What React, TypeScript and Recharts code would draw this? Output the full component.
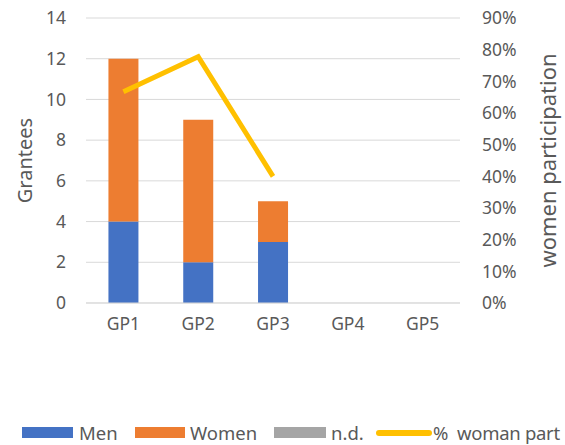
import React from 'react';
import { ComposedChart, Bar, Line, XAxis, YAxis, CartesianGrid } from 'recharts';

const categories = ['GP1', 'GP2', 'GP3', 'GP4', 'GP5'];
const men = [4, 2, 3, 0, 0];
const women = [8, 7, 2, 0, 0];
const nd = [0, 0, 0, 0, 0];
const womanPart: (number | null)[] = [0.667, 0.778, 0.4, null, null];
const leftTicks = [0, 2, 4, 6, 8, 10, 12, 14];
const rightTicks = [0, 0.1, 0.2, 0.3, 0.4, 0.5, 0.6, 0.7, 0.8, 0.9];

const data = categories.map((c, i) => ({
  name: c,
  men: men[i],
  women: women[i],
  nd: nd[i],
  pct: womanPart[i],
}));

const FONT = '"Noto Sans", sans-serif';
const TXT = '#595959';

const legendItems = [
  { label: 'Men', color: '#4472C4', type: 'rect', left: 22, width: 51, textLeft: 79 },
  { label: 'Women', color: '#ED7D31', type: 'rect', left: 135, width: 50, textLeft: 190 },
  { label: 'n.d.', color: '#A5A5A5', type: 'rect', left: 274, width: 52, textLeft: 331 },
  { label: '%  woman part', color: '#FFC000', type: 'line', left: 376, width: 56, textLeft: 433 },
];

export default function App() {
  return (
    <div style={{ position: 'absolute', left: 0, top: 0, width: 565, height: 445, background: '#fff', fontFamily: FONT, overflow: 'hidden' }}>
      <ComposedChart
        width={565}
        height={400}
        data={data}
        margin={{ top: 18, right: 0, left: 0, bottom: 0 }}
        barCategoryGap="30%"
      >
        <CartesianGrid horizontal vertical={false} stroke="#D9D9D9" strokeWidth={1} yAxisId="left" />
        <XAxis
          dataKey="name"
          axisLine={{ stroke: '#D9D9D9' }}
          tickLine={false}
          tickMargin={9}
          height={97}
          tick={{ fill: TXT, fontSize: 17.5, fontFamily: FONT }}
        />
        <YAxis
          yAxisId="left"
          orientation="left"
          width={86}
          domain={[0, 14]}
          ticks={leftTicks}
          axisLine={false}
          tickLine={false}
          tickMargin={14}
          tick={{ fill: TXT, fontSize: 17.5, fontFamily: FONT }}
          label={{ value: 'Grantees', angle: -90, position: 'center', dx: -18, fill: TXT, fontSize: 20, fontFamily: FONT }}
        />
        <YAxis
          yAxisId="right"
          orientation="right"
          width={105}
          domain={[0, 0.9]}
          ticks={rightTicks}
          axisLine={false}
          tickLine={false}
          tickMargin={16}
          tickFormatter={(v: number) => `${Math.round(v * 100)}%`}
          tick={{ fill: TXT, fontSize: 17.5, fontFamily: FONT, textAnchor: 'start' }}
          label={{ value: 'women participation', angle: -90, position: 'center', dx: 36, fill: TXT, fontSize: 22, fontFamily: FONT }}
        />
        <Bar yAxisId="left" dataKey="men" stackId="a" fill="#4472C4" isAnimationActive={false} />
        <Bar yAxisId="left" dataKey="women" stackId="a" fill="#ED7D31" isAnimationActive={false} />
        <Bar yAxisId="left" dataKey="nd" stackId="a" fill="#A5A5A5" isAnimationActive={false} />
        <Line
          yAxisId="right"
          dataKey="pct"
          stroke="#FFC000"
          strokeWidth={5}
          dot={false}
          activeDot={false}
          strokeLinejoin="miter"
          isAnimationActive={false}
        />
      </ComposedChart>
      {legendItems.map((it) => (
        <React.Fragment key={it.label}>
          {it.type === 'rect' ? (
            <div style={{ position: 'absolute', left: it.left, top: 427, width: it.width, height: 11, background: it.color }} />
          ) : (
            <div style={{ position: 'absolute', left: it.left, top: 430, width: it.width, height: 5.5, borderRadius: 3, background: it.color }} />
          )}
          <div style={{ position: 'absolute', left: it.textLeft, top: 420, fontSize: 18.5, color: TXT, whiteSpace: 'pre', lineHeight: '26px', letterSpacing: it.type === 'line' ? -0.3 : 0 }}>
            {it.label}
          </div>
        </React.Fragment>
      ))}
    </div>
  );
}
